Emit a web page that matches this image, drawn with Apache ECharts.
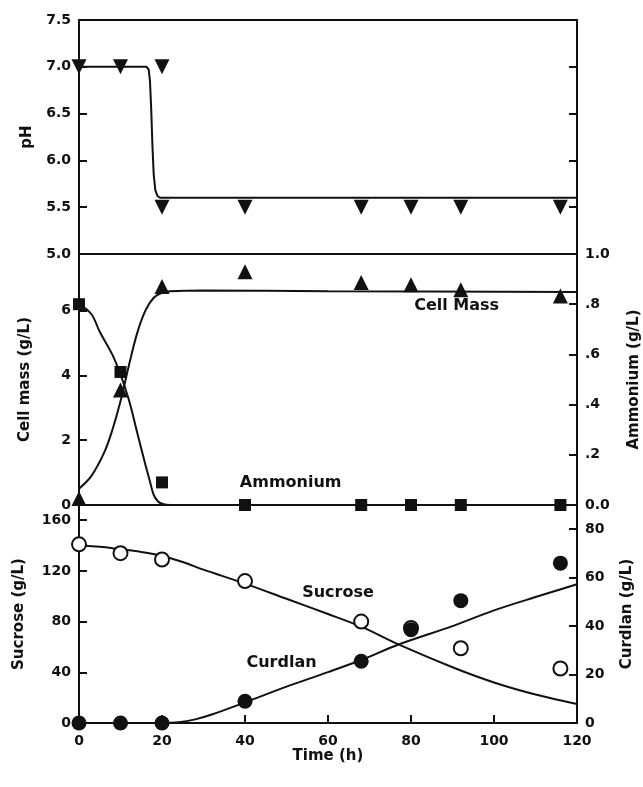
<!DOCTYPE html>
<html>
<head>
<meta charset="utf-8">
<script src="https://cdn.jsdelivr.net/npm/echarts@6/dist/echarts.min.js"></script>
<style>
  html, body { margin: 0; padding: 0; background: #fff; }
  #chart { width: 643px; height: 787px; }
</style>
</head>
<body>
<div id="chart"></div>
<script>
// measured points (time in h)
const phTime = [0, 10, 20, 20, 40, 68, 80, 92, 116];
const phValues = [7.0, 7.0, 7.0, 5.5, 5.5, 5.5, 5.5, 5.5, 5.5];

const cellTime = [0, 10, 20, 40, 68, 80, 92, 116];
const cellValues = [0.2, 3.55, 6.75, 7.2, 6.87, 6.8, 6.65, 6.45];

const ammTime = [0, 10, 20, 40, 68, 80, 92, 116];
const ammValues = [0.8, 0.53, 0.09, 0, 0, 0, 0, 0];

const sucTime = [0, 10, 20, 40, 68, 80, 92, 116];
const sucValues = [141, 134, 129, 112, 80, 75, 59, 43];

const curTime = [0, 10, 20, 40, 68, 80, 92, 116];
const curValues = [0, 0, 0, 9, 25.5, 38.5, 50.5, 66];

// fitted curves
const phFitTime = [0, 16.3, 16.8, 17.1, 17.4, 17.7, 18.0, 18.4, 18.9, 19.6, 120];
const phFitValues = [7.0, 7.0, 6.97, 6.85, 6.55, 6.15, 5.85, 5.68, 5.62, 5.6, 5.6];

const cellFitTime = [0, 3, 6, 8, 10, 12, 14, 16, 18, 20, 22, 30, 60, 120];
const cellFitValues = [0.5, 0.9, 1.6, 2.3, 3.2, 4.3, 5.3, 6.0, 6.4, 6.55, 6.6, 6.62, 6.6, 6.58];

const ammFitTime = [0, 3, 5, 8, 10, 12, 14, 16, 17, 18, 19, 20, 22, 120];
const ammFitValues = [0.8, 0.76, 0.69, 0.6, 0.52, 0.42, 0.29, 0.16, 0.1, 0.04, 0.015, 0.005, 0, 0];

const sucFitTime = [0, 5, 10, 15, 20, 25, 30, 40, 50, 60, 68, 77, 90, 100, 110, 120];
const sucFitValues = [140, 139, 137, 135, 132, 127, 121, 110, 98, 86, 76, 62, 44, 32, 22.5, 15];

const curFitTime = [0, 20, 24, 28, 32, 40, 50, 60, 68, 77, 90, 100, 110, 120];
const curFitValues = [0, 0, 0.3, 1.5, 3.5, 8.5, 15, 21, 26, 32.4, 40, 46.5, 52, 57.3];

// curve labels (time, value on their own axis)
const noteText = ['Cell Mass', 'Ammonium', 'Sucrose', 'Curdlan'];
const noteTime = [91, 51, 62.4, 48.8];
const noteValue = [6.15, 0.09, 103, 24.9];

const xTicks = [0, 20, 40, 60, 80, 100, 120];

const FONT = "'DejaVu Sans', Arial, sans-serif";
const INK = '#111';

const pairs = (xs, ys) => xs.map((x, i) => [x, ys[i]]);

const chart = echarts.init(document.getElementById('chart'));

const tick = { show: true, inside: true, length: 8, lineStyle: { color: INK, width: 2 } };
const labelStyle = { color: INK, fontFamily: FONT, fontWeight: 'bold', fontSize: 14, margin: 8 };
const nameStyle = { color: INK, fontFamily: FONT, fontWeight: 'bold', fontSize: 15 };

const gridBox = {
  show: true, borderColor: INK, borderWidth: 2, backgroundColor: 'transparent',
  containLabel: false, outerBoundsMode: 'none'
};

const xAxisFor = (gridIndex, withLabels) => ({
  type: 'value',
  gridIndex,
  min: xTicks[0],
  max: xTicks[xTicks.length - 1],
  interval: 20,
  axisLine: { show: false },
  axisTick: withLabels ? tick : { show: false },
  axisLabel: withLabels ? Object.assign({}, labelStyle, { margin: 11 }) : { show: false },
  splitLine: { show: false },
  name: withLabels ? 'Time (h)' : '',
  nameLocation: 'middle',
  nameGap: 25,
  nameTextStyle: nameStyle
});

const yAxisBase = (gridIndex, position, min, max, interval) => ({
  type: 'value',
  gridIndex,
  position,
  min, max, interval,
  axisLine: { show: false },
  axisTick: tick,
  splitLine: { show: false },
  nameLocation: 'middle',
  nameTextStyle: nameStyle
});

const lineSeries = (x, y, xs, ys, smooth) => ({
  type: 'line',
  xAxisIndex: x,
  yAxisIndex: y,
  data: pairs(xs, ys),
  symbol: 'none',
  smooth,
  lineStyle: { color: INK, width: 2, opacity: 1 },
  z: 2
});

const pointSeries = (x, y, xs, ys, symbol, size, extra) => Object.assign({
  type: 'scatter',
  xAxisIndex: x,
  yAxisIndex: y,
  data: pairs(xs, ys),
  symbol,
  symbolSize: size,
  clip: false,
  itemStyle: { color: INK, opacity: 1 },
  z: 4
}, extra || {});

const noteAxes = [[1, 2], [1, 3], [2, 4], [2, 5]];
const noteSeries = noteText.map((t, i) => ({
  type: 'scatter',
  xAxisIndex: noteAxes[i][0],
  yAxisIndex: noteAxes[i][1],
  data: [{ name: t, value: [noteTime[i], noteValue[i]] }],
  symbolSize: 0,
  silent: true,
  itemStyle: { opacity: 1 },
  label: {
    show: true,
    position: 'inside',
    formatter: '{b}',
    color: INK,
    fontFamily: FONT,
    fontWeight: 'bold',
    fontSize: 16
  },
  z: 5
}));

const option = {
  animation: false,
  backgroundColor: '#fff',
  grid: [
    Object.assign({ left: 79, right: 66, top: 20, height: 234 }, gridBox),
    Object.assign({ left: 79, right: 66, top: 254, height: 251 }, gridBox),
    Object.assign({ left: 79, right: 66, top: 505, height: 218 }, gridBox)
  ],
  xAxis: [xAxisFor(0, false), xAxisFor(1, false), xAxisFor(2, true)],
  yAxis: [
    Object.assign(yAxisBase(0, 'left', 5, 7.5, 0.5), {
      name: 'pH', nameGap: 44,
      axisLabel: Object.assign({}, labelStyle, { formatter: v => v.toFixed(1) })
    }),
    Object.assign(yAxisBase(0, 'right', 5, 7.5, 0.5), { axisLabel: { show: false } }),
    Object.assign(yAxisBase(1, 'left', 0, 7.75, 2), {
      name: 'Cell mass (g/L)', nameGap: 46,
      axisLabel: Object.assign({}, labelStyle, { formatter: v => (v % 2 === 0 ? String(v) : '') })
    }),
    Object.assign(yAxisBase(1, 'right', 0, 1, 0.2), {
      name: 'Ammonium (g/L)', nameGap: 50,
      axisLabel: Object.assign({}, labelStyle, {
        formatter: v => (v === 0 ? '0.0' : v === 1 ? '1.0' : v.toFixed(1).replace(/^0/, ''))
      })
    }),
    Object.assign(yAxisBase(2, 'left', 0, 172, 40), {
      name: 'Sucrose (g/L)', nameGap: 52,
      axisLabel: Object.assign({}, labelStyle, { formatter: v => (v % 40 === 0 ? String(v) : '') })
    }),
    Object.assign(yAxisBase(2, 'right', 0, 90, 20), {
      name: 'Curdlan (g/L)', nameGap: 43,
      axisLabel: Object.assign({}, labelStyle, { formatter: v => (v % 20 === 0 ? String(v) : '') })
    })
  ],
  series: [
    lineSeries(0, 0, phFitTime, phFitValues, false),
    pointSeries(0, 0, phTime, phValues, 'triangle', 15, { symbolRotate: 180 }),

    lineSeries(1, 2, cellFitTime, cellFitValues, 0.35),
    lineSeries(1, 3, ammFitTime, ammFitValues, 0.35),
    pointSeries(1, 2, cellTime, cellValues, 'triangle', 15),
    pointSeries(1, 3, ammTime, ammValues, 'rect', 12),

    lineSeries(2, 4, sucFitTime, sucFitValues, 0.3),
    lineSeries(2, 5, curFitTime, curFitValues, 0.3),
    pointSeries(2, 4, sucTime, sucValues, 'circle', 14, {
      itemStyle: { color: '#fff', borderColor: INK, borderWidth: 2, opacity: 1 }
    }),
    pointSeries(2, 5, curTime, curValues, 'circle', 15, { z: 5 })
  ].concat(noteSeries)
};

chart.setOption(option);
</script>
</body>
</html>
